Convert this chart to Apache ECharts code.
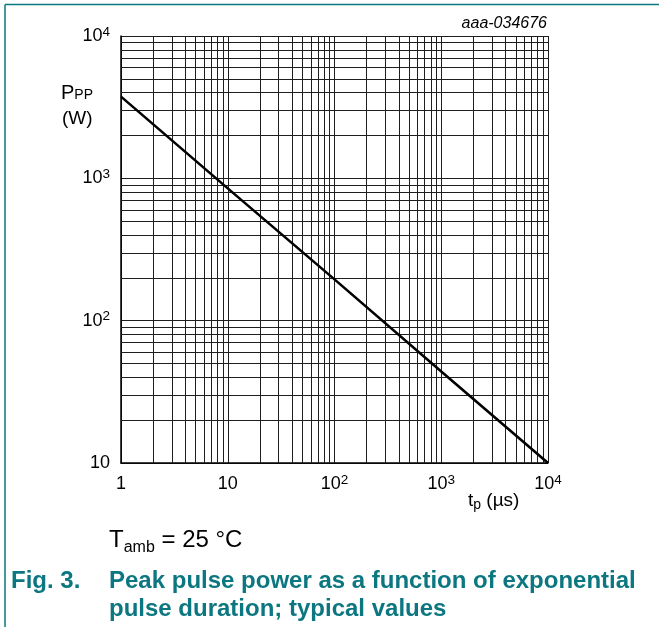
<!DOCTYPE html>
<html>
<head>
<meta charset="utf-8">
<script src="https://cdn.jsdelivr.net/npm/echarts@6/dist/echarts.min.js"></script>
<style>
html,body{margin:0;padding:0;background:#ffffff;}
#chart{width:659px;height:627px;}
</style>
</head>
<body>
<div id="chart"></div>
<script>
// ---- data ----
const pulseDuration = [1, 10, 100, 1000, 10000];      // tp (µs)
const peakPulsePower = [3750, 850, 195, 44, 10];       // Ppp (W)
const xTickValues = [1, 10, 100, 1000, 10000];
const yTickValues = [10, 100, 1000, 10000];
const xDecadeStarts = [1, 10, 100, 1000];
const yDecadeStarts = [10, 100, 1000];
const minorMultipliers = [2, 3, 4, 5, 6, 7, 8, 9];

const FONT = "'Liberation Sans', Arial, Helvetica, sans-serif";
const TEAL = '#0c7780';
const GRID = '#1e1e1e';

function tickLabel(v) {
  const e = Math.round(Math.log10(v));
  if (e === 0) return '{b|1}';
  if (e === 1) return '{b|10}';
  return '{b|10}{s|' + e + '}';
}
const labelRich = {
  b: { fontSize: 18, lineHeight: 22, fontFamily: FONT, color: '#000' },
  s: { fontSize: 13.5, lineHeight: 13, fontFamily: FONT, color: '#000', verticalAlign: 'top' }
};

const minorX = [];
xDecadeStarts.forEach(d => minorMultipliers.forEach(m => minorX.push({ xAxis: d * m })));
const minorY = [];
yDecadeStarts.forEach(d => minorMultipliers.forEach(m => minorY.push({ yAxis: d * m })));

const chart = echarts.init(document.getElementById('chart'), null, { renderer: 'canvas' });
chart.setOption({
  animation: false,
  backgroundColor: '#ffffff',
  grid: { left: 121, top: 36, width: 427, height: 427, containLabel: false },
  xAxis: {
    type: 'log', logBase: 10, min: 1, max: 10000,
    axisLine: { show: true, lineStyle: { color: '#000', width: 1.5 } },
    axisTick: { show: false },
    axisLabel: { margin: 10, formatter: tickLabel, rich: labelRich, showMinLabel: true, showMaxLabel: true },
    splitLine: { show: true, lineStyle: { color: GRID, width: 1 } },
    minorTick: { show: false }, minorSplitLine: { show: false }
  },
  yAxis: {
    type: 'log', logBase: 10, min: 10, max: 10000,
    axisLine: { show: true, lineStyle: { color: '#000', width: 1.5 } },
    axisTick: { show: false },
    axisLabel: { margin: 11, formatter: tickLabel, rich: labelRich, showMinLabel: true, showMaxLabel: true },
    splitLine: { show: true, lineStyle: { color: GRID, width: 1 } },
    minorTick: { show: false }, minorSplitLine: { show: false }
  },
  series: [
    {
      type: 'line',
      data: [],
      silent: true,
      markLine: {
        silent: true, symbol: ['none', 'none'], label: { show: false },
        lineStyle: { type: 'solid', color: GRID, width: 1 },
        emphasis: { disabled: true },
        data: minorX.concat(minorY)
      }
    },
    {
      type: 'line',
      data: pulseDuration.map((t, i) => [t, peakPulsePower[i]]),
      showSymbol: false, symbol: 'none',
      lineStyle: { color: '#000', width: 2.6 },
      z: 5
    }
  ],
  graphic: [
    { type: 'line', shape: { x1: 5, y1: 4.5, x2: 659, y2: 4.5 }, style: { stroke: TEAL, lineWidth: 1.5 } },
    { type: 'line', shape: { x1: 5, y1: 4.5, x2: 5, y2: 627 }, style: { stroke: TEAL, lineWidth: 1.5 } },
    { type: 'text', x: 547, y: 24, style: { text: 'aaa-034676', fontFamily: FONT, fontSize: 16, fontStyle: 'italic', fill: '#000', align: 'right', verticalAlign: 'middle' } },
    { type: 'text', x: 61, y: 93, style: {
        text: '{m|P}{s|PP}', align: 'left', verticalAlign: 'middle',
        rich: { m: { fontSize: 20, lineHeight: 18, fontFamily: FONT, fill: '#000' },
                s: { fontSize: 14, lineHeight: 12, fontFamily: FONT, fill: '#000', verticalAlign: 'bottom' } } } },
    { type: 'text', x: 62, y: 119, style: { text: '(W)', fontFamily: FONT, fontSize: 19, fill: '#000', align: 'left', verticalAlign: 'middle' } },
    { type: 'text', x: 468, y: 501, style: {
        text: '{m|t}{s|p}{m| (µs)}', align: 'left', verticalAlign: 'middle',
        rich: { m: { fontSize: 19, lineHeight: 23, fontFamily: FONT, fill: '#000' },
                s: { fontSize: 14, lineHeight: 14, fontFamily: FONT, fill: '#000', verticalAlign: 'bottom' } } } },
    { type: 'text', x: 109, y: 540, style: {
        text: '{m|T}{s|amb}{m| = 25 °C}', align: 'left', verticalAlign: 'middle',
        rich: { m: { fontSize: 24, lineHeight: 32, fontFamily: FONT, fill: '#000' },
                s: { fontSize: 16, lineHeight: 16, fontFamily: FONT, fill: '#000', verticalAlign: 'bottom' } } } },
    { type: 'text', x: 11, y: 581, style: { text: 'Fig. 3.', fontFamily: FONT, fontSize: 24, fontWeight: 'bold', fill: TEAL, align: 'left', verticalAlign: 'middle' } },
    { type: 'text', x: 109, y: 581, style: { text: 'Peak pulse power as a function of exponential', fontFamily: FONT, fontSize: 24, fontWeight: 'bold', fill: TEAL, align: 'left', verticalAlign: 'middle' } },
    { type: 'text', x: 109, y: 609, style: { text: 'pulse duration; typical values', fontFamily: FONT, fontSize: 24, fontWeight: 'bold', fill: TEAL, align: 'left', verticalAlign: 'middle' } }
  ]
});
</script>
</body>
</html>
